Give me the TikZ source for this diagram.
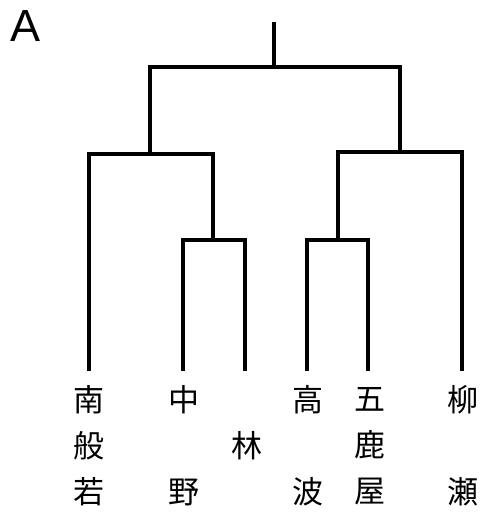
\documentclass[tikz,border=0pt]{standalone}
\usepackage{fontspec}
\newfontfamily\jpfont{Noto Sans CJK JP}
\newfontfamily\latinsans{Liberation Sans}
\begin{document}
\begin{tikzpicture}[x=1pt,y=-1pt,
  branch/.style={line width=4.5pt,line cap=rect,line join=miter},
  leaflabel/.style={inner sep=0pt,align=center,font=\jpfont\fontsize{31}{46}\selectfont}]
\useasboundingbox (0,0) rectangle (484,514);
\fill[white] (0,0) rectangle (484,514);
\node[inner sep=0pt,anchor=base west,font=\latinsans\fontsize{45}{45}\selectfont] (title) at (10,41) {A};
% tree vertices
\coordinate (top) at (274,24);
\coordinate (root) at (274,67);
\coordinate (L) at (150,154);
\coordinate (R) at (400,152);
\coordinate (LL) at (213,240);
\coordinate (RL) at (338,240);
\coordinate (nan) at (89,369);
\coordinate (naka) at (183,369);
\coordinate (hay) at (245,369);
\coordinate (tak) at (307,369);
\coordinate (gok) at (368,369);
\coordinate (yan) at (462,369);
% branches
\draw[branch] (top) -- (root);
\draw[branch] (L) |- (root) -| (R);
\draw[branch] (nan) |- (L) -| (LL);
\draw[branch] (naka) |- (LL) -| (hay);
\draw[branch] (RL) |- (R) -| (yan);
\draw[branch] (tak) |- (RL) -| (gok);
% labels
\node[leaflabel] (lnan) at (89,446) {南\\般\\若};
\node[leaflabel] (lnaka) at (184,446) {中\\~\\野};
\node[leaflabel] (lhay) at (247,446) {林};
\node[leaflabel] (ltak) at (308,446) {高\\~\\波};
\node[leaflabel] (lgok) at (370,446) {五\\鹿\\屋};
\node[leaflabel] (lyan) at (463,446) {柳\\~\\瀬};
\end{tikzpicture}
\end{document}
